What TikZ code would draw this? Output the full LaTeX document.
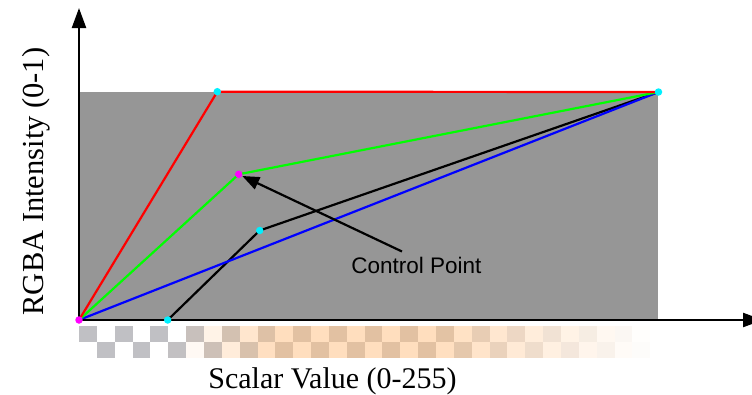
\documentclass[tikz,border=0pt]{standalone}
\usepackage{fontspec}
\setmainfont{Liberation Serif}
\newfontfamily\arialf{Liberation Sans}
\usetikzlibrary{arrows.meta}
\definecolor{plotgray}{RGB}{150,150,150}
\definecolor{peachlt}{RGB}{255,222,190}
\definecolor{tandk}{RGB}{226,193,162}
\definecolor{graydk}{RGB}{192,192,196}
\definecolor{cyandot}{RGB}{0,240,255}
\definecolor{magdot}{RGB}{255,0,255}
\tikzset{
  curve/.style={line width=2.2pt},
  axisline/.style={line width=2.3pt,-{Triangle[length=20pt,width=14pt]}},
  cdot/.style={circle,fill=cyandot,inner sep=0pt,minimum size=7.5pt},
  mdot/.style={circle,fill=magdot,inner sep=0pt,minimum size=7.5pt},
  pointer/.style={line width=2.2pt,-{Triangle[length=17pt,width=13pt]}},
}
\begin{document}
\begin{tikzpicture}[x=1pt,y=-1pt]
\useasboundingbox (0,0) rectangle (752,394);
% plot background
\fill[plotgray] (79,92) rectangle (658,320);
% checkerboard colour strip
\foreach \i in {0,...,31}{
  \pgfmathsetmacro\xl{79+\i*17.85}
  \pgfmathsetmacro\xm{\xl+8.925}
  \pgfmathsetmacro\pl{100*max(0,min(1,min((\xm-180)/90,(650-\xm)/210)))}
  \pgfmathsetmacro\bd{100*max(0,min(1,(\xm-170)/110))}
  \pgfmathsetmacro\cw{100*max(0.05,min(1,(650-\xm)/210))}
  \pgfmathsetmacro\yd{326+16*mod(\i,2)}
  \fill[peachlt!\pl!white] (\xl,326) rectangle ++(17.95,32);
  \fill[tandk!\bd!graydk!\cw!white] (\xl,\yd) rectangle ++(17.95,16);
}
% points
\coordinate (o) at (79,320);
\coordinate (r1) at (217.3,91.7);
\coordinate (e) at (658.5,92);
\coordinate (g1) at (238.7,174.3);
\coordinate (k0) at (167.7,320);
\coordinate (k1) at (259.7,230.5);
\coordinate (cps) at (402,251.5);
\coordinate (yend) at (79,8);
\coordinate (xend) at (763,320);
% transfer curves
\draw[curve,black] (k0) -- (k1) -- (e);
\draw[curve,blue] (o) -- (e);
\draw[curve,green] (o) -- (g1) -- (e);
\draw[curve,red] (o) -- (r1) -- (e);
% axes
\draw[axisline] (o) -- (yend);
\draw[axisline] (o) -- (xend);
% control points
\node[mdot] (po) at (o) {};
\node[cdot] (pr1) at (r1) {};
\node[cdot] (pe) at (e) {};
\node[mdot] (pg1) at (g1) {};
\node[cdot] (pk0) at (k0) {};
\node[cdot] (pk1) at (k1) {};
% label and pointer
\node[anchor=base,inner sep=0pt,font=\arialf\fontsize{22.5}{26}\selectfont] (cpl) at (416.5,273) {Control Point};
\draw[pointer] (cps) -- (pg1);
% axis labels
\node[anchor=base,inner sep=0pt,font=\fontsize{30}{36}\selectfont] (xl) at (332.5,388) {Scalar Value (0-255)};
\node[anchor=base,rotate=90,inner sep=0pt,font=\fontsize{30.5}{36}\selectfont] (yl) at (43,181.5) {RGBA Intensity (0-1)};
\end{tikzpicture}
\end{document}
